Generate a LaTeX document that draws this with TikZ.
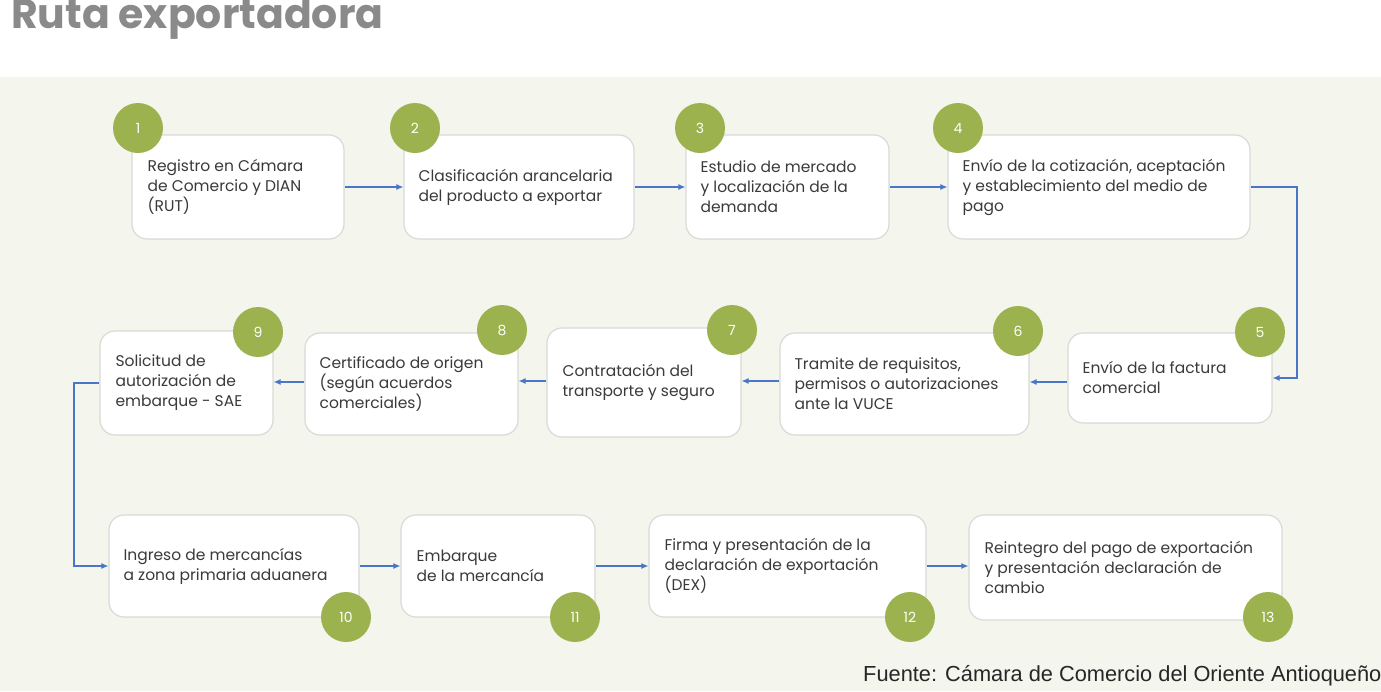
\documentclass[tikz,border=0pt]{standalone}
\usepackage{fontspec}
\setmainfont{Poppins}
\newfontfamily\srcfont{Liberation Sans}
\usetikzlibrary{arrows.meta}
\definecolor{bgc}{HTML}{F4F5ED}
\definecolor{olive}{HTML}{9CB24F}
\definecolor{boxline}{HTML}{D9D9D6}
\definecolor{arr}{HTML}{4A76C8}
\definecolor{titlegray}{HTML}{8A8A8A}
\definecolor{txt}{HTML}{3A3A3A}
\tikzset{
  stepbox/.style={draw=boxline, line width=1.2pt, fill=white, rounded corners=15pt, inner sep=0pt},
  steptext/.style={anchor=west, align=left, inner sep=0pt, text=txt, font=\fontsize{15.5}{20}\selectfont},
  numdot/.style={circle, fill=olive, minimum size=50pt, inner sep=0pt, text=white, font=\fontsize{14}{14}\selectfont},
  flow/.style={draw=arr, line width=1.1pt, -{Latex[length=7pt,width=6pt]}}
}
\begin{document}
\begin{tikzpicture}[x=1pt,y=-1pt]
\useasboundingbox (0,0) rectangle (1381,691);
\fill[white] (0,0) rectangle (1381,77);
\fill[bgc] (0,77) rectangle (1381,691);
\node[anchor=base west, inner sep=0pt, text=titlegray, font=\bfseries\fontsize{41}{41}\selectfont] (title) at (11,28) {Ruta exportadora};
% row 1
\node[stepbox, minimum width=212pt, minimum height=104pt] (b1) at (238,187) {};
\node[stepbox, minimum width=230pt, minimum height=104pt] (b2) at (519,187) {};
\node[stepbox, minimum width=203pt, minimum height=104pt] (b3) at (787.5,187) {};
\node[stepbox, minimum width=302pt, minimum height=104pt] (b4) at (1099,187) {};
% row 2
\node[stepbox, minimum width=204pt, minimum height=90pt] (b5) at (1170,378) {};
\node[stepbox, minimum width=249pt, minimum height=102pt] (b6) at (904.5,384) {};
\node[stepbox, minimum width=194pt, minimum height=109pt] (b7) at (644,382.5) {};
\node[stepbox, minimum width=213pt, minimum height=102pt] (b8) at (411.5,384) {};
\node[stepbox, minimum width=173pt, minimum height=104pt] (b9) at (186.5,383) {};
% row 3
\node[stepbox, minimum width=250pt, minimum height=102pt] (b10) at (234,566) {};
\node[stepbox, minimum width=194pt, minimum height=102pt] (b11) at (498,566) {};
\node[stepbox, minimum width=277pt, minimum height=102pt] (b12) at (787.5,566) {};
\node[stepbox, minimum width=313pt, minimum height=105pt] (b13) at (1125.5,567.5) {};
% texts
\node[steptext] (t1) at ([xshift=16pt]b1.west) {Registro en Cámara\\de Comercio y DIAN\\(RUT)};
\node[steptext] (t2) at ([xshift=15pt]b2.west) {Clasificación arancelaria\\del producto a exportar};
\node[steptext] (t3) at ([xshift=15pt]b3.west) {Estudio de mercado\\y localización de la\\demanda};
\node[steptext] (t4) at ([xshift=15pt]b4.west) {Envío de la cotización, aceptación\\y establecimiento del medio de\\pago};
\node[steptext] (t5) at ([xshift=15pt]b5.west) {Envío de la factura\\comercial};
\node[steptext] (t6) at ([xshift=15pt]b6.west) {Tramite de requisitos,\\permisos o autorizaciones\\ante la VUCE};
\node[steptext] (t7) at ([xshift=16pt]b7.west) {Contratación del\\transporte y seguro};
\node[steptext] (t8) at ([xshift=15pt]b8.west) {Certificado de origen\\(según acuerdos\\comerciales)};
\node[steptext] (t9) at ([xshift=16pt]b9.west) {Solicitud de\\autorización de\\embarque - SAE};
\node[steptext] (t10) at ([xshift=15pt]b10.west) {Ingreso de mercancías\\a zona primaria aduanera};
\node[steptext] (t11) at ([xshift=16pt]b11.west) {Embarque\\de la mercancía};
\node[steptext] (t12) at ([xshift=16pt]b12.west) {Firma y presentación de la\\declaración de exportación\\(DEX)};
\node[steptext] (t13) at ([xshift=16pt]b13.west) {Reintegro del pago de exportación\\y presentación declaración de\\cambio};
% number circles
\node[numdot] (c1) at (138,128) {1};
\node[numdot] (c2) at (415,128) {2};
\node[numdot] (c3) at (700,128) {3};
\node[numdot] (c4) at (958,128) {4};
\node[numdot] (c5) at (1260,332) {5};
\node[numdot] (c6) at (1018,331) {6};
\node[numdot] (c7) at (732,330) {7};
\node[numdot] (c8) at (502,330) {8};
\node[numdot] (c9) at (258,332) {9};
\node[numdot] (c10) at (346,617) {10};
\node[numdot] (c11) at (575,617) {11};
\node[numdot] (c12) at (910,617) {12};
\node[numdot] (c13) at (1268,617) {13};
% connectors
\coordinate (k4) at (1297,187);
\coordinate (k5) at (1297,378);
\coordinate (k9) at (74,383);
\coordinate (k10) at (74,566);
\draw[flow] (b1.east) -- (b2.west);
\draw[flow] (b2.east) -- (b3.west);
\draw[flow] (b3.east) -- (b4.west);
\draw[flow] (b4.east) -- (k4) -- (k5) -- (b5.east);
\draw[flow] (b5.west |- 0,382) -- (b6.east |- 0,382);
\draw[flow] (b6.west |- 0,381) -- (b7.east |- 0,381);
\draw[flow] (b7.west |- 0,381) -- (b8.east |- 0,381);
\draw[flow] (b8.west |- 0,382) -- (b9.east |- 0,382);
\draw[flow] (b9.west) -- (k9) -- (k10) -- (b10.west);
\draw[flow] (b10.east) -- (b11.west);
\draw[flow] (b11.east) -- (b12.west);
\draw[flow] (b12.east) -- (b13.west |- b12.east);
% source
\node[anchor=west, inner sep=0pt, text=black!85, font=\srcfont\fontsize{21.8}{21.8}\selectfont] (src) at (863,676) {Fuente: Cámara de Comercio del Oriente Antioqueño};
\end{tikzpicture}
\end{document}
